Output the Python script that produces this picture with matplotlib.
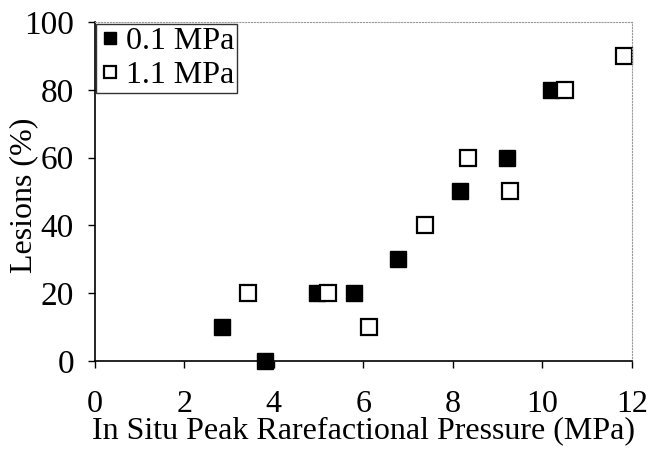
import matplotlib
matplotlib.use("Agg")
import matplotlib.pyplot as plt

plt.rcParams['font.family'] = ['Liberation Serif', 'DejaVu Serif']

# 0.1 MPa overpressure (filled squares)
p_low_x = [2.85, 3.8, 4.97, 5.8, 6.78, 8.15, 9.2, 10.2]
p_low_y = [10, 0, 20, 20, 30, 50, 60, 80]

# 1.1 MPa overpressure (open squares)
p_high_x = [3.43, 5.22, 6.12, 7.38, 8.35, 9.28, 10.5, 11.82]
p_high_y = [20, 20, 10, 40, 60, 50, 80, 90]

x_ticks = [0, 2, 4, 6, 8, 10, 12]
y_ticks = [0, 20, 40, 60, 80, 100]

fig = plt.figure(figsize=(6.5, 4.5), dpi=100)
ax = fig.add_axes([0.146, 0.198, 0.826, 0.753])

ax.plot(p_low_x, p_low_y, 's', color='black', markersize=11, label='0.1 MPa', clip_on=False)
ax.plot(p_high_x, p_high_y, 's', markerfacecolor='white', markeredgecolor='black',
        markeredgewidth=1.6, markersize=11, label='1.1 MPa', clip_on=False)

ax.set_xlim(0, 12)
ax.set_ylim(0, 100)
ax.set_xticks(x_ticks)
ax.set_yticks(y_ticks)
ax.tick_params(labelsize=24, direction='out', length=5, width=1)
ax.tick_params(axis='x', labelsize=23, pad=16)
ax.tick_params(axis='y', pad=10)

for side in ['top', 'right']:
    ax.spines[side].set_linestyle(':')
    ax.spines[side].set_color('#999999')
    ax.spines[side].set_linewidth(0.8)
ax.spines['left'].set_linewidth(1.2)
ax.spines['bottom'].set_linewidth(1.2)

ax.set_xlabel('In Situ Peak Rarefactional Pressure (MPa)', fontsize=23, labelpad=-2)
ax.set_ylabel('Lesions (%)', fontsize=23)
ax.yaxis.set_label_coords(-0.106, 0.49)

leg = ax.legend(loc='upper left', fontsize=23, frameon=True, fancybox=False,
                borderpad=0.1, handletextpad=0.2, handlelength=0.62,
                labelspacing=0.13, borderaxespad=0.05, markerscale=0.75)
leg.get_frame().set_edgecolor('black')
leg.get_frame().set_linewidth(1.0)

fig.savefig('out.png', dpi=100)
